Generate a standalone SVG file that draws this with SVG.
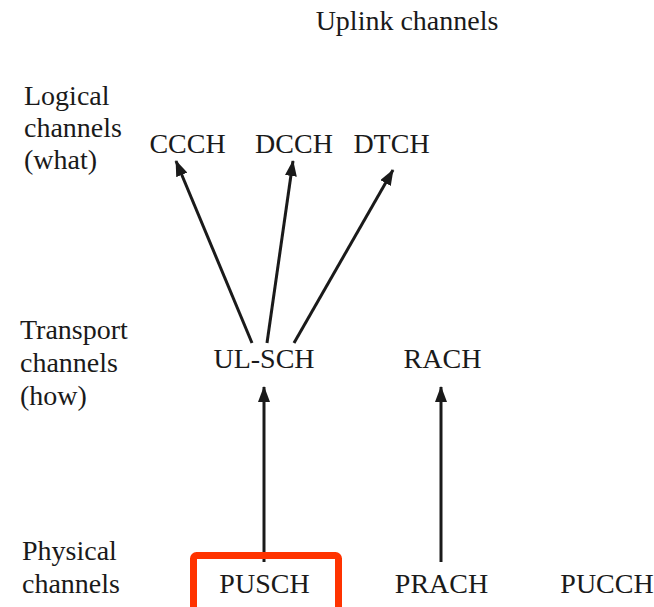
<svg xmlns="http://www.w3.org/2000/svg" width="654" height="607" viewBox="0 0 654 607">
  <style>
    text { font-family: "Liberation Serif", "Times New Roman", serif; font-size: 28px; fill: #1a1a1a; }
    .n { text-anchor: middle; }
    .lbl { text-anchor: start; }
    .arr { stroke: #1a1a1a; stroke-width: 3; fill: none; marker-end: url(#ah); }
    .hl { fill: none; stroke: #ff3300; stroke-width: 7; }
  </style>
  <defs>
    <marker id="ah" markerUnits="userSpaceOnUse" markerWidth="16" markerHeight="12" refX="15" refY="6" orient="auto">
      <path d="M0,0 L16,6 L0,12 z" fill="#1a1a1a"/>
    </marker>
  </defs>
  <rect width="654" height="607" fill="#ffffff"/>

  <text class="n" x="407" y="30">Uplink channels</text>

  <g id="row-labels">
    <text class="lbl" x="24" y="105">Logical</text>
    <text class="lbl" x="24" y="137">channels</text>
    <text class="lbl" x="24" y="169">(what)</text>
    <text class="lbl" x="20" y="339">Transport</text>
    <text class="lbl" x="20" y="372">channels</text>
    <text class="lbl" x="20" y="405">(how)</text>
    <text class="lbl" x="22" y="560">Physical</text>
    <text class="lbl" x="22" y="593">channels</text>
  </g>

  <g id="connectors">
    <line class="arr" x1="252" y1="343" x2="176" y2="161"/>
    <line class="arr" x1="267" y1="343" x2="293" y2="161"/>
    <line class="arr" x1="294" y1="343" x2="393" y2="170"/>
    <line class="arr" x1="264" y1="562" x2="264" y2="387"/>
    <line class="arr" x1="441" y1="562" x2="441" y2="387"/>
  </g>

  <g id="CCCH"><text class="n" x="187.5" y="153">CCCH</text></g>
  <g id="DCCH"><text class="n" x="294" y="153">DCCH</text></g>
  <g id="DTCH"><text class="n" x="391.5" y="153">DTCH</text></g>
  <g id="UL-SCH"><text class="n" x="264" y="368">UL-SCH</text></g>
  <g id="RACH"><text class="n" x="442.5" y="368">RACH</text></g>
  <g id="PUSCH">
    <rect class="hl" x="193.5" y="555.5" width="145" height="60" rx="3"/>
    <text class="n" x="264.5" y="593">PUSCH</text>
  </g>
  <g id="PRACH"><text class="n" x="441.5" y="593">PRACH</text></g>
  <g id="PUCCH"><text class="n" x="607" y="593">PUCCH</text></g>
</svg>
